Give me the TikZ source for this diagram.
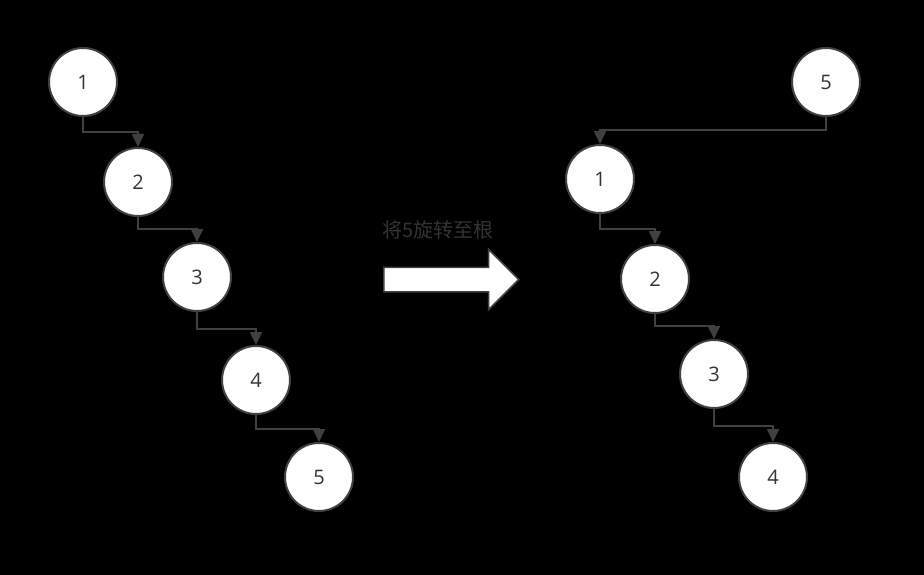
\documentclass[tikz,border=0pt]{standalone}
\usepackage{fontspec}
\setmainfont{Open Sans}
\newfontfamily\cjk{Noto Sans CJK SC}
\usetikzlibrary{arrows.meta,shapes.arrows}
\definecolor{edge}{HTML}{404040}
\definecolor{txt}{HTML}{333333}
\begin{document}
\begin{tikzpicture}[x=1pt,y=-1pt,
  nd/.style={circle,draw=edge,line width=2pt,fill=white,minimum size=68pt,inner sep=0pt,font=\fontsize{20}{22}\selectfont,text=txt},
  conn/.style={draw=edge,line width=1.6pt,-{Triangle[length=13pt,width=12pt]}}]
\fill[black] (0,0) rectangle (924,575);
\useasboundingbox (0,0) rectangle (924,575);
\node[nd] (a1) at (83,82) {1};
\node[nd] (a2) at (138,182) {2};
\node[nd] (a3) at (197,277) {3};
\node[nd] (a4) at (256,380) {4};
\node[nd] (a5) at (319,477) {5};
\node[nd] (b5) at (826,82) {5};
\node[nd] (b1) at (600,179) {1};
\node[nd] (b2) at (655,279) {2};
\node[nd] (b3) at (714,374) {3};
\node[nd] (b4) at (773,477) {4};
\draw[conn] (a1.south) |- ++(0,15) -| (a2.north);
\draw[conn] (a2.south) |- ++(0,12) -| (a3.north);
\draw[conn] (a3.south) |- ++(0,17) -| (a4.north);
\draw[conn] (a4.south) |- ++(0,14) -| (a5.north);
\draw[conn] (b5.south) |- ++(0,13) -| (b1.north);
\draw[conn] (b1.south) |- ++(0,15) -| (b2.north);
\draw[conn] (b2.south) |- ++(0,12) -| (b3.north);
\draw[conn] (b3.south) |- ++(0,17) -| (b4.north);
\node[single arrow,draw=edge,line width=1.5pt,fill=white,minimum height=135pt,minimum width=59pt,single arrow head extend=18pt,single arrow tip angle=90,inner xsep=0pt,inner ysep=11.5pt,text height=0pt,text depth=0pt,anchor=west,single arrow head indent=0pt] (arr) at (383,279.5) {};
\node[font=\cjk\fontsize{20}{22}\selectfont,text=txt] (lbl) at (438,230) {将5旋转至根};
\end{tikzpicture}
\end{document}
